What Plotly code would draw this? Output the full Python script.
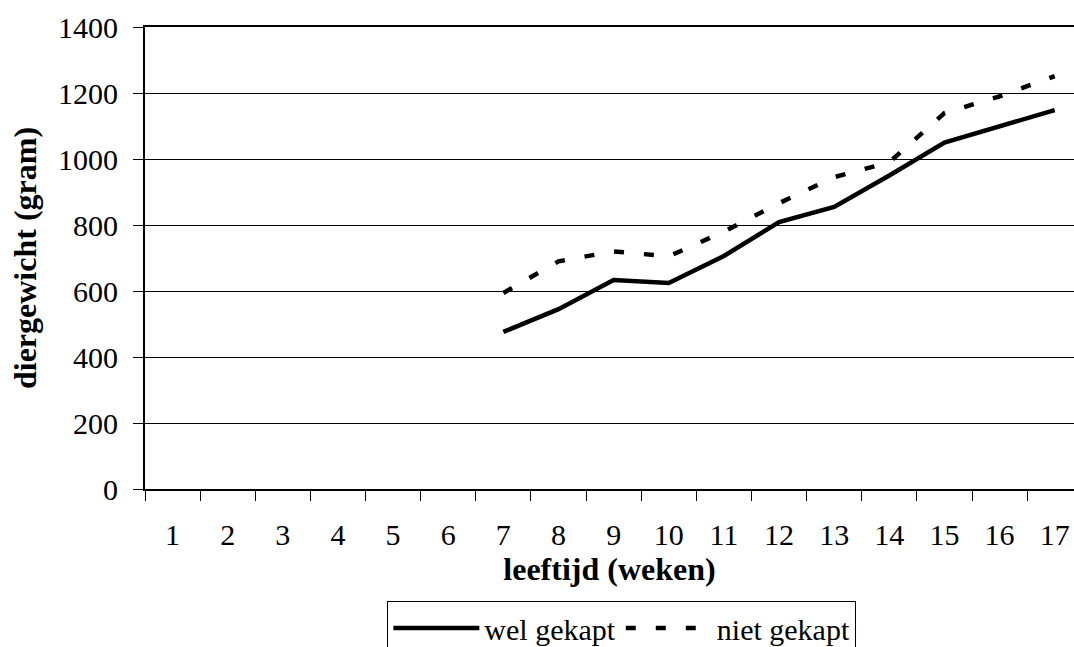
import plotly.graph_objects as go

weeks = [str(w) for w in range(1, 18)]
wel_gekapt = [None, None, None, None, None, None,
              476, 545, 633, 624, 706, 809, 855, 950, 1050, 1100, 1148]
niet_gekapt = [None, None, None, None, None, None,
               594, 690, 720, 705, 780, 866, 945, 990, 1139, 1190, 1251]
y_ticks = [0, 200, 400, 600, 800, 1000, 1200, 1400]

FONT = "Liberation Serif"

fig = go.Figure()
fig.add_trace(go.Scatter(x=weeks, y=wel_gekapt, mode="lines", name="wel gekapt",
                         line=dict(color="black", width=4.5)))
fig.add_trace(go.Scatter(x=weeks, y=niet_gekapt, mode="lines", name="niet gekapt",
                         line=dict(color="black", width=4.5, dash="10px,20px")))

fig.update_layout(
    width=1074, height=647,
    paper_bgcolor="white", plot_bgcolor="white",
    margin=dict(l=145, r=0, t=27, b=158),
    font=dict(family=FONT, size=30, color="black"),
    showlegend=True,
    legend=dict(orientation="h", xref="container", yref="container",
                x=0.579, xanchor="center", y=0.071, yanchor="top",
                bordercolor="black", borderwidth=1, bgcolor="white",
                font=dict(family=FONT, size=30, color="black"),
                itemwidth=86, tracegroupgap=0),
)
fig.update_xaxes(
    type="category", range=[-0.5, 16.35], automargin=False,
    showline=True, linecolor="black", linewidth=2, mirror=True,
    ticks="outside", tickson="boundaries", ticklen=10, tickcolor="black", tickwidth=1,
    ticklabelstandoff=18,
    showgrid=False, zeroline=False,
    title=dict(text="<b>leeftijd (weken)</b>", font=dict(family=FONT, size=32), standoff=4),
)
fig.update_yaxes(
    range=[0, 1400], tickvals=y_ticks, automargin=False,
    showline=True, linecolor="black", linewidth=2,
    ticks="outside", ticklen=10, tickcolor="black", tickwidth=1,
    ticklabelstandoff=9,
    showgrid=True, gridcolor="black", gridwidth=1, zeroline=False,
    title=dict(text="<b>diergewicht (gram)</b>", font=dict(family=FONT, size=32), standoff=12),
)

fig.write_html("out.html", config={"displayModeBar": False},
               post_script="document.body.style.margin='0';document.body.style.overflow='hidden';")
